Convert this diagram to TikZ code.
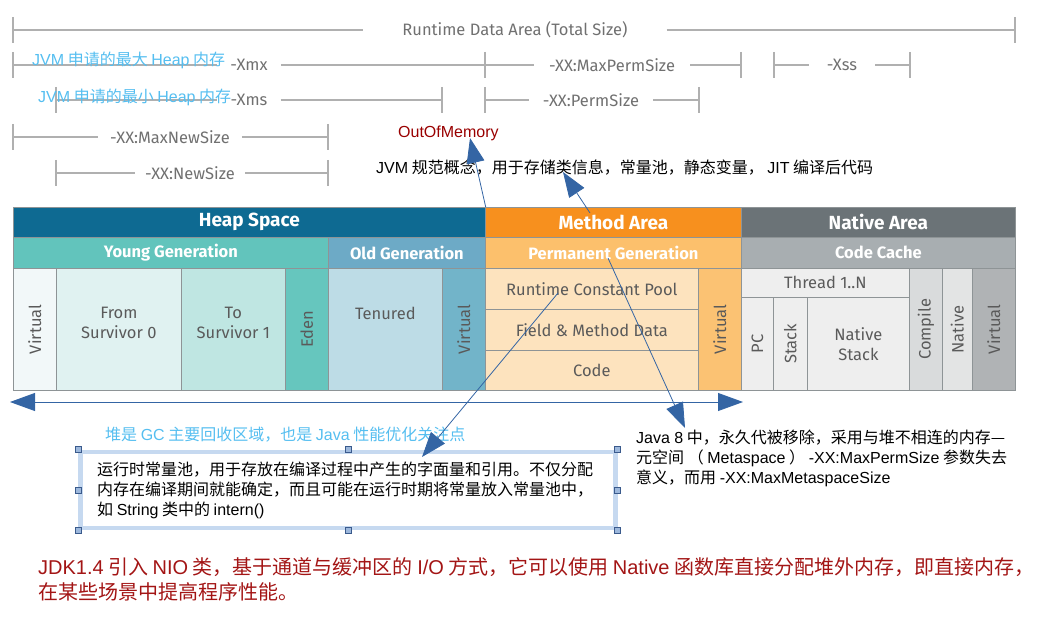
\documentclass[tikz,border=0pt]{standalone}
\usepackage{fontspec}
\setmainfont{Liberation Sans}
\setsansfont{Fira Sans}
\newfontfamily\cjk{Noto Sans CJK SC}
\newcommand\lat[1]{{\rmfamily #1}}
\usepackage{tikz}
\usetikzlibrary{arrows.meta,positioning,calc}

\definecolor{dimline}{HTML}{B0B0B0}
\definecolor{dimtext}{HTML}{707070}
\definecolor{cellline}{HTML}{8E9496}
\definecolor{celltext}{HTML}{5A5A5A}
\definecolor{heapdark}{HTML}{0E6A92}
\definecolor{younghead}{HTML}{62C4BC}
\definecolor{oldhead}{HTML}{6DAAC6}
\definecolor{virtlight}{HTML}{F2F8F9}
\definecolor{fromsurv}{HTML}{E0F2F1}
\definecolor{tosurv}{HTML}{BFE6E2}
\definecolor{eden}{HTML}{66C6BE}
\definecolor{tenured}{HTML}{BDDCE6}
\definecolor{virtold}{HTML}{72B4C9}
\definecolor{methodhead}{HTML}{F7901E}
\definecolor{permhead}{HTML}{FCC06C}
\definecolor{methodcell}{HTML}{FDE3BE}
\definecolor{virtmeth}{HTML}{FBC273}
\definecolor{nativehead}{HTML}{6B7377}
\definecolor{codecache}{HTML}{A8AEB1}
\definecolor{threadcell}{HTML}{EEEEEE}
\definecolor{compilecell}{HTML}{D9DBDC}
\definecolor{nativecol}{HTML}{E3E4E4}
\definecolor{virtnat}{HTML}{B0B3B5}
\definecolor{noteblue}{HTML}{55BEF0}
\definecolor{oomred}{HTML}{990000}
\definecolor{niored}{HTML}{A31515}
\definecolor{arrblue}{HTML}{3465A4}
\definecolor{boxblue}{HTML}{C6D9F0}
\definecolor{handlefill}{HTML}{9DB8DC}
\definecolor{handleedge}{HTML}{3A5A8C}

\begin{document}
\begin{tikzpicture}[x=1pt,y=-1pt,
   dim/.style={draw=dimline,line width=1.2pt},
   dimlbl/.style={text=dimtext,font=\sffamily\fontsize{16.5}{16.5}\selectfont,inner ysep=0pt},
   cell/.style={draw=cellline,line width=0.7pt,anchor=north west,inner sep=0pt,text=celltext,font=\sffamily\fontsize{16.5}{20}\selectfont,align=center},
   head/.style={cell,text=white,font=\sffamily\bfseries\fontsize{19}{19}\selectfont},
   subhead/.style={cell,text=white,font=\sffamily\bfseries\fontsize{16.5}{16.5}\selectfont},
   lbl/.style={text=celltext,font=\sffamily\fontsize{16.5}{20}\selectfont,align=center},
   vlbl/.style={lbl,rotate=90},
   note/.style={font=\cjk\fontsize{16}{20}\selectfont,inner sep=0pt,align=left},
   arr/.style={draw=arrblue,line width=0.8pt,-{Triangle[length=25pt,width=18pt]}},
   handle/.style={draw=handleedge,fill=handlefill,line width=0.6pt,minimum size=6pt,inner sep=0pt}]
\useasboundingbox (0,0) rectangle (1044,639);

% size ranges
\coordinate (totL) at (13,30);   \coordinate (totR) at (1015,30);
\coordinate (xmxL) at (13,65);   \coordinate (xmxR) at (485,65);
\coordinate (mpsL) at (485,65);  \coordinate (mpsR) at (741,65);
\coordinate (xssL) at (774,65);  \coordinate (xssR) at (910,65);
\coordinate (xmsL) at (56,100);  \coordinate (xmsR) at (442,100);
\coordinate (psL) at (485,100);  \coordinate (psR) at (699,100);
\coordinate (mnsL) at (13,137);  \coordinate (mnsR) at (328,137);
\coordinate (nwsL) at (56,173);  \coordinate (nwsR) at (328,173);
\node[dimlbl,inner xsep=39pt] (tot) at (515,30) {Runtime Data Area (Total Size)};
\node[dimlbl,inner xsep=13pt] (xmx) at (249,65) {-Xmx};
\node[dimlbl,inner xsep=15pt] (mps) at (612,65) {-XX:MaxPermSize};
\node[dimlbl,inner xsep=18pt] (xss) at (842,65) {-Xss};
\node[dimlbl,inner xsep=13pt] (xms) at (249,100) {-Xms};
\node[dimlbl,inner xsep=14pt] (ps) at (591,100) {-XX:PermSize};
\node[dimlbl,inner xsep=12pt] (mns) at (170,137) {-XX:MaxNewSize};
\node[dimlbl,inner xsep=10pt] (nws) at (190,173) {-XX:NewSize};
\foreach \r in {tot,xmx,mps,xss,xms,ps,mns,nws}{
   \draw[dim] (\r L) -- (\r.west) (\r.east) -- (\r R);
   \draw[dim] ($(\r L)+(0,-13)$) -- ($(\r L)+(0,13)$);
   \draw[dim] ($(\r R)+(0,-13)$) -- ($(\r R)+(0,13)$);
}
\node[note,text=noteblue,anchor=west] (maxheap) at (32,60) {\lat{JVM} 申请的最大 \lat{Heap} 内存};
\node[note,text=noteblue,anchor=west] (minheap) at (38,97) {\lat{JVM} 申请的最小 \lat{Heap} 内存};
\node[text=oomred,font=\fontsize{16}{16}\selectfont,inner sep=0pt,anchor=west] (oom) at (398,133) {OutOfMemory};
\node[note,anchor=west] (spec) at (376,168) {\lat{JVM} 规范概念，用于存储类信息，常量池，静态变量， \lat{JIT} 编译后代码};

% memory areas
\node[head,fill=heapdark,minimum width=472pt,minimum height=30pt] (hs) at (13,207) {Heap Space};
\node[head,fill=methodhead,minimum width=256pt,minimum height=30pt] (ma) at (485,207) {Method Area};
\node[head,fill=nativehead,minimum width=274pt,minimum height=30pt] (na) at (741,207) {Native Area};
\node[subhead,fill=younghead,minimum width=315pt,minimum height=31pt] (yg) at (13,237) {Young Generation};
\node[subhead,fill=oldhead,minimum width=157pt,minimum height=31pt] (og) at (328,237) {Old Generation};
\node[subhead,fill=permhead,minimum width=256pt,minimum height=31pt] (pg) at (485,237) {Permanent Generation};
\node[subhead,fill=codecache,minimum width=274pt,minimum height=31pt] (cc) at (741,237) {Code Cache};

\node[cell,fill=virtlight,minimum width=43pt,minimum height=122pt] (v1) at (13,268) {};
\node[cell,fill=fromsurv,minimum width=125pt,minimum height=122pt] (fs) at (56,268) {};
\node[cell,fill=tosurv,minimum width=104pt,minimum height=122pt] (ts) at (181,268) {};
\node[cell,fill=eden,minimum width=43pt,minimum height=122pt] (ed) at (285,268) {};
\node[cell,fill=tenured,minimum width=114pt,minimum height=122pt] (te) at (328,268) {};
\node[cell,fill=virtold,minimum width=43pt,minimum height=122pt] (v2) at (442,268) {};
\node[cell,fill=methodcell,minimum width=213pt,minimum height=41pt] (rcp) at (485,268) {Runtime Constant Pool};
\node[cell,fill=methodcell,minimum width=213pt,minimum height=41pt] (fmd) at (485,309) {Field \& Method Data};
\node[cell,fill=methodcell,minimum width=213pt,minimum height=40pt] (cd) at (485,350) {Code};
\node[cell,fill=virtmeth,minimum width=43pt,minimum height=122pt] (v3) at (698,268) {};
\node[cell,fill=threadcell,minimum width=168pt,minimum height=29pt] (th) at (741,268) {Thread 1..N};
\node[cell,fill=threadcell,minimum width=32pt,minimum height=93pt] (pc) at (741,297) {};
\node[cell,fill=threadcell,minimum width=34pt,minimum height=93pt] (stk) at (773,297) {};
\node[cell,fill=threadcell,minimum width=102pt,minimum height=93pt] (nstk) at (807,297) {Native\\Stack};
\node[cell,fill=compilecell,minimum width=33pt,minimum height=122pt] (cp) at (909,268) {};
\node[cell,fill=nativecol,minimum width=30pt,minimum height=122pt] (nt) at (942,268) {};
\node[cell,fill=virtnat,minimum width=43pt,minimum height=122pt] (v4) at (972,268) {};

\node[lbl] (fsl) at ($(fs.north)+(0,55)$) {From\\Survivor 0};
\node[lbl] (tsl) at ($(ts.north)+(0,55)$) {To\\Survivor 1};
\node[lbl] (tel) at ($(te.north)+(0,45)$) {Tenured};
\node[vlbl] (v1l) at (v1) {Virtual};
\node[vlbl] (edl) at (ed) {Eden};
\node[vlbl] (v2l) at (v2) {Virtual};
\node[vlbl] (v3l) at (v3) {Virtual};
\node[vlbl] (pcl) at (pc) {PC};
\node[vlbl] (stkl) at (stk) {Stack};
\node[vlbl] (cpl) at (cp) {Compile};
\node[vlbl] (ntl) at (nt) {Native};
\node[vlbl] (v4l) at (v4) {Virtual};

% notes
\node[note,text=noteblue,anchor=west] (gcnote) at (105,435) {堆是 \lat{GC} 主要回收区域，也是 \lat{Java} 性能优化关注点};
\node[draw=boxblue,line width=4.5pt,minimum width=535pt,minimum height=76pt,inner sep=0pt] (box) at (348,490) {};
\foreach \a/\n in {north west/1,north/2,north east/3,west/4,east/5,south west/6,south/7,south east/8}
   \node[handle] (hd\n) at (box.\a) {};
\node[note,anchor=west] (rcpnote) at (97,490) {运行时常量池，用于存放在编译过程中产生的字面量和引用。不仅分配\\内存在编译期间就能确定，而且可能在运行时期将常量放入常量池中，\\如 \lat{String} 类中的 \lat{intern()}};
\node[note,anchor=west] (j8note) at (636,458) {\lat{Java 8} 中，永久代被移除，采用与堆不相连的内存—\\元空间 （ \lat{Metaspace} ） \lat{-XX:MaxPermSize} 参数失去\\意义，而用 \lat{-XX:MaxMetaspaceSize}};
\node[note,text=niored,font=\cjk\fontsize{20}{25}\selectfont,anchor=west] (nio) at (38,579) {\lat{JDK1.4} 引入 \lat{NIO} 类，基于通道与缓冲区的 \lat{I/O} 方式，它可以使用 \lat{Native} 函数库直接分配堆外内存，即直接内存，\\在某些场景中提高程序性能。};

% arrows
\coordinate (oomtip) at (470,138);
\coordinate (spectail) at (590,213);  \coordinate (spectip) at (563,172);
\coordinate (rcptail) at (558,293);   \coordinate (rcptip) at (422,457);
\coordinate (pgtail) at (608,258);    \coordinate (j8tip) at (685,428);
\coordinate (spanL) at (10,402);      \coordinate (spanR) at (743,402);
\draw[arr] (hs.north east) -- (oomtip);
\draw[arr] (spectail) -- (spectip);
\draw[arr] (rcptail) -- (rcptip);
\draw[arr] (pgtail) -- (j8tip);
\draw[arr,{Triangle[length=25pt,width=18pt]}-{Triangle[length=25pt,width=18pt]}] (spanL) -- (spanR);
\end{tikzpicture}
\end{document}
